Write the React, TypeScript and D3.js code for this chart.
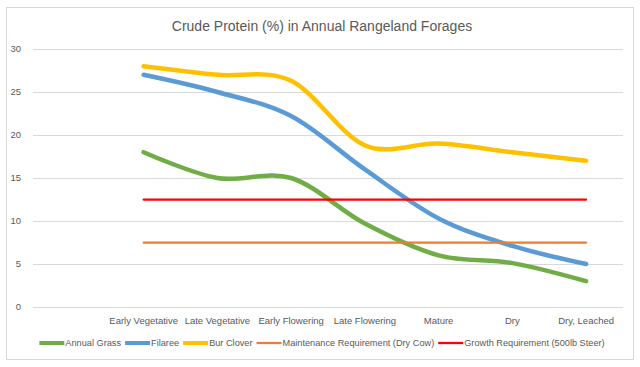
import React, { useEffect, useRef } from "react";
import * as d3 from "d3";

const categories = ["", "Early Vegetative", "Late Vegetative", "Early Flowering", "Late Flowering", "Mature", "Dry", "Dry, Leached"];
const stages = categories.slice(1);
const annualGrass = [18, 15, 15, 9.7, 6, 5.1, 3];
const filaree = [27, 25, 22.2, 16, 10.3, 7.1, 5];
const burClover = [28, 27, 26.3, 18.8, 19, 18, 17];
const maintenance = [7.5, 7.5, 7.5, 7.5, 7.5, 7.5, 7.5];
const growth = [12.5, 12.5, 12.5, 12.5, 12.5, 12.5, 12.5];
const yTicks = [0, 5, 10, 15, 20, 25, 30];
const title = "Crude Protein (%) in Annual Rangeland Forages";

const seriesList = [
  { name: "Annual Grass", values: annualGrass, color: "#70AD47", width: 4.5, smooth: true },
  { name: "Filaree", values: filaree, color: "#5B9BD5", width: 4.5, smooth: true },
  { name: "Bur Clover", values: burClover, color: "#FFC000", width: 4.5, smooth: true },
  { name: "Maintenance Requirement (Dry Cow)", values: maintenance, color: "#ED7D31", width: 2.25, smooth: false },
  { name: "Growth Requirement (500lb Steer)", values: growth, color: "#FF0000", width: 2.25, smooth: false },
];

const FONT = "'Liberation Sans Narrow', 'Liberation Sans', Arial, sans-serif";

export default function App() {
  const ref = useRef<SVGSVGElement>(null);
  useEffect(() => {
    const svg = d3.select(ref.current);
    svg.selectAll("*").remove();

    const left = 33, right = 623, top = 49, bottom = 307;
    const x = d3.scaleBand<string>().domain(categories).range([left, right]);
    const cx = (c: string) => (x(c) as number) + x.bandwidth() / 2;
    const y = d3.scaleLinear().domain([0, 30]).range([bottom, top]);

    svg.append("rect").attr("x", 6.5).attr("y", 7.5).attr("width", 627).attr("height", 352)
      .attr("fill", "#fff").attr("stroke", "#d9d9d9").attr("stroke-width", 1);

    svg.append("text").attr("x", 322).attr("y", 31).attr("text-anchor", "middle")
      .attr("font-family", FONT).attr("font-size", 14).attr("fill", "#595959").text(title);

    const yAxis = svg.append("g");
    yAxis.selectAll("line").data(yTicks).join("line")
      .attr("x1", left).attr("x2", right)
      .attr("y1", (d) => Math.round(y(d)) + 0.5).attr("y2", (d) => Math.round(y(d)) + 0.5)
      .attr("stroke", "#d9d9d9").attr("stroke-width", 1);
    yAxis.selectAll("text").data(yTicks).join("text")
      .attr("x", 21).attr("y", (d) => y(d) + 3.3).attr("text-anchor", "end")
      .attr("font-family", FONT).attr("font-size", 9.5).attr("fill", "#595959").text((d) => String(d));

    svg.append("g").selectAll("text").data(stages).join("text")
      .attr("x", (d) => cx(d)).attr("y", 324).attr("text-anchor", "middle")
      .attr("font-family", FONT).attr("font-size", 9.5).attr("fill", "#595959").text((d) => d);

    const lines = svg.append("g").attr("fill", "none").attr("stroke-linecap", "round");
    seriesList.forEach((s) => {
      const gen = d3.line<number>()
        .x((_, i) => cx(stages[i]))
        .y((v) => y(v))
        .curve(s.smooth ? d3.curveCardinal.tension(0) : d3.curveLinear);
      lines.append("path").attr("d", gen(s.values) as string)
        .attr("stroke", s.color).attr("stroke-width", s.width);
    });

    // legend
    const lg = svg.append("g");
    const sample = 25, gapAfter = 4;
    let pos = 0;
    const items: { g: any; w: number }[] = [];
    seriesList.forEach((s) => {
      const g = lg.append("g");
      g.append("line").attr("x1", 0).attr("x2", sample).attr("y1", 0).attr("y2", 0)
        .attr("stroke", s.color).attr("stroke-width", s.smooth ? 4 : 2.25);
      const t = g.append("text").attr("x", sample + 1).attr("y", 3.3)
        .attr("font-family", FONT).attr("font-size", 9.2).attr("fill", "#595959").text(s.name);
      const tw = (t.node() as SVGTextElement).getComputedTextLength();
      const w = sample + 1 + tw;
      items.push({ g, w });
    });
    const total = d3.sum(items, (d) => d.w) + gapAfter * (items.length - 1);
    pos = 322 - total / 2;
    items.forEach((it) => {
      it.g.attr("transform", `translate(${pos},343)`);
      pos += it.w + gapAfter;
    });
  }, []);
  return (
    <svg ref={ref} width={640} height={367}
      style={{ position: "absolute", left: 0, top: 0, background: "#fff" }} />
  );
}
